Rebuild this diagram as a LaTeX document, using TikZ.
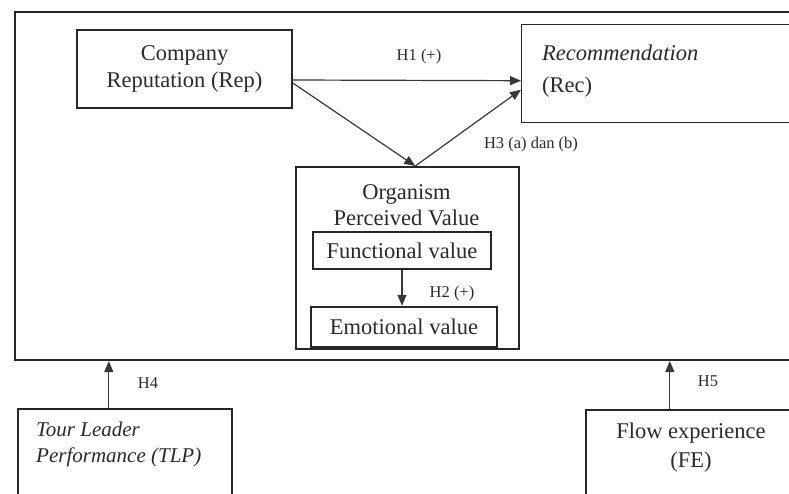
\documentclass[tikz,border=0pt]{standalone}
\usepackage{fontspec}
\setmainfont{Liberation Serif}
\usetikzlibrary{arrows.meta}
\definecolor{linec}{HTML}{262626}
\definecolor{textc}{HTML}{2A2A2A}
\definecolor{arrc}{HTML}{383838}
\begin{document}
\begin{tikzpicture}[x=1pt,y=-1pt,
  box/.style={draw=linec, line width=1.6pt, inner sep=0pt},
  txt/.style={text=textc, font=\fontsize{22.5}{26.5}\selectfont, align=center, inner sep=0pt},
  lab/.style={text=textc, font=\fontsize{16.5}{20}\selectfont, inner sep=0pt},
  arr/.style={draw=arrc, line width=1.2pt, -{Triangle[length=11pt,width=9pt]}}]
\useasboundingbox (0,0) rectangle (789,493);
\fill[white] (0,0) rectangle (789,493);

% outer frame
\node[box, line width=2pt, anchor=north west, minimum width=900pt, minimum height=348pt] (outer) at (14,11) {};

% company reputation
\node[box, txt, minimum width=215pt, minimum height=78pt] (rep) at (184.5,69) {Company\\Reputation (Rep)};

% recommendation
\node[box, line width=1.4pt, anchor=north west, minimum width=300pt, minimum height=98pt] (rec) at (521,24) {};
\node[txt, anchor=west, align=left, font=\fontsize{22.5}{32}\selectfont] (rectext) at (542,71) {\textit{Recommendation}\\(Rec)};

% organism
\node[box, anchor=north west, minimum width=223pt, minimum height=182pt] (org) at (295,166) {};
\node[txt] (orgtitle) at (406.5,205) {Organism\\Perceived Value};
\node[box, txt, minimum width=178pt, minimum height=37pt] (func) at (402,250.5) {Functional value};
\node[box, txt, line width=2.4pt, minimum width=186pt, minimum height=40pt] (emo) at (404,327) {Emotional value};

% TLP
\node[box, anchor=north west, minimum width=214pt, minimum height=120pt] (tlp) at (17,408) {};
\node[txt, anchor=west, align=left, font=\itshape\fontsize{21}{26}\selectfont] (tlptext) at (36,444) {Tour Leader\\Performance (TLP)};

% FE
\node[box, anchor=north west, minimum width=212pt, minimum height=120pt] (fe) at (585,409) {};
\node[txt, font=\fontsize{22.5}{29}\selectfont] (fetext) at (691,447.5) {Flow experience\\(FE)};

% connectors
\draw[arr] ([yshift=-11pt]rep.east) -- ([yshift=-7pt]rec.west);
\draw[arr] ([yshift=-14pt]rep.east) -- ([xshift=8pt]org.north);
\draw[arr] ([xshift=8pt]org.north) -- ([yshift=-16pt]rec.west);
\draw[arr] (func.south) -- (func.south |- emo.north);
\draw[arr] ([xshift=-16pt]tlp.north) -- ([xshift=-16pt]tlp.north |- outer.south);
\draw[arr] ([xshift=-22pt]fe.north) -- ([xshift=-22pt]fe.north |- outer.south);

% labels
\node[lab] (h1) at (419,57) {H1 (+)};
\node[lab] (h3) at (531,145) {H3 (a) dan (b)};
\node[lab] (h2) at (452,294) {H2 (+)};
\node[lab] (h4) at (148,383) {H4};
\node[lab] (h5) at (708,381) {H5};
\end{tikzpicture}
\end{document}
